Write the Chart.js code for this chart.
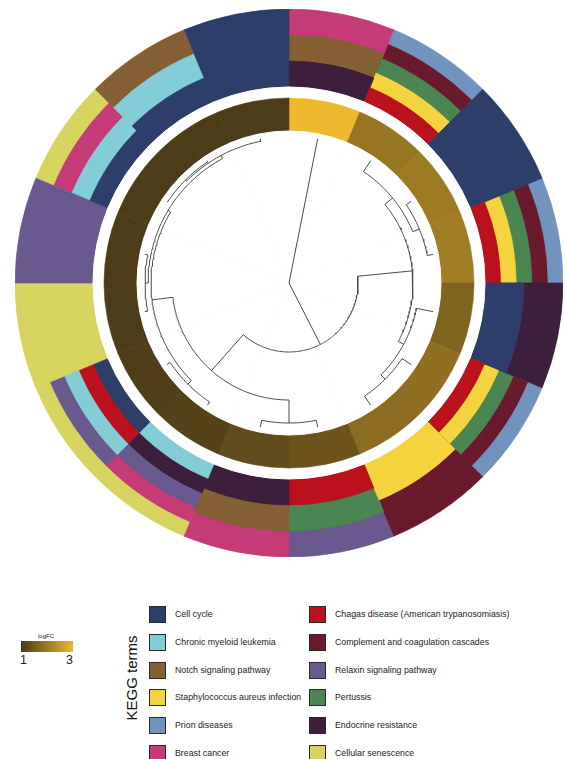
<!DOCTYPE html>
<html>
<head>
<meta charset="utf-8">
<script src="https://cdn.jsdelivr.net/npm/chart.js@4.4.1/dist/chart.umd.min.js"></script>
<style>
  body { margin: 0; background: #fff; font-family: "Liberation Sans", Arial, sans-serif; }
  #wrap { position: relative; width: 565px; height: 759px; overflow: hidden; }
  .cv { position: absolute; left: 15px; top: 9px; }
  .sw { position: absolute; width: 15px; height: 15px; border: 1px solid #2a2a2a; }
  .lt { position: absolute; font-size: 8.8px; color: #222; white-space: nowrap; line-height: 10px; }
</style>
</head>
<body>
<div id="wrap">
  <canvas id="ring" class="cv" width="548" height="548"></canvas>
  <canvas id="tree" class="cv" width="548" height="548"></canvas>
  <div id="legend"></div>
</div>
<script>
// ================= DATA =================

const genes = ["g1","g2","g3","g4","g5","g6","g7","g8","g9","g10","g11","g12","g13","g14","g15","g16"];

// logFC per gene, clockwise from 12 o'clock
const logFC = [3.0, 1.93, 2.02, 2.05, 1.64, 1.83, 1.78, 1.40, 1.28, 1.12, 1.06, 1.03, 1.03, 1.03, 1.03, 1.03];

const terms = [
    "Cell cycle",
    "Chronic myeloid leukemia",
    "Notch signaling pathway",
    "Staphylococcus aureus infection",
    "Prion diseases",
    "Breast cancer",
    "Chagas disease (American trypanosomiasis)",
    "Complement and coagulation cascades",
    "Relaxin signaling pathway",
    "Pertussis",
    "Endocrine resistance",
    "Cellular senescence"
];

const termColors = [
    "#2E3E6A", "#83CDD8", "#856034", "#F3D33E", "#7194BF", "#C43B77",
    "#BA111D", "#6A1A2D", "#6A598F", "#4B8551", "#3D1F3D", "#D6D35F"
];

// term memberships per gene, inner to outer
const geneTerms = [
    [10, 2, 5],
    [6, 3, 9, 7, 4],
    [0],
    [6, 3, 9, 7, 4],
    [0, 10],
    [6, 3, 9, 7, 4],
    [3, 7],
    [6, 9, 8],
    [10, 2, 5],
    [1, 10, 8, 5, 11],
    [0, 6, 1, 8, 11],
    [11],
    [8],
    [0, 1, 5, 11],
    [0, 1, 2],
    [0]
];

// dendrogram merges: [left, right, height radius]
const merges = {
    n0:  ["g3", "g4", 141],
    n1:  ["g2", "n0", 134],
    n2:  ["g6", "g7", 136],
    n3:  ["g5", "n2", 130],
    n4:  ["n1", "n3", 124],
    n5:  ["g8", "g9", 140],
    n6:  ["g10", "g11", 143],
    n7:  ["g12", "g13", 144],
    n8:  ["g14", "g15", 146],
    n9:  ["n8", "g16", 144.5],
    n10: ["n7", "n9", 141],
    n11: ["n6", "n10", 138],
    n12: ["n5", "n11", 117],
    n13: ["n4", "n12", 69],
    n14: ["g1", "n13", 0]
};

const fcRange = [1, 3];
const fcLow = [75, 58, 24];
const fcHigh = [238, 185, 46];

// ================= RING GEOMETRY =================

const R_MAX = 274;
const R_CENTER = 152;
const R_FC = 185;
const R_GAP = 196;
const R_LEAF = 147;
const SECTOR = 360 / genes.length;

function fcColor(v) {
    const t = Math.max(0, Math.min(1, (v - fcRange[0]) / (fcRange[1] - fcRange[0])));
    const c = fcLow.map((a, i) => Math.round(a + (fcHigh[i] - a) * t));
    return "rgb(" + c.join(",") + ")";
}

const maxTerms = Math.max(...geneTerms.map(t => t.length));

const ringSets = [];

ringSets.push({
    data: genes.map(() => R_CENTER),
    backgroundColor: "#ffffff",
    borderColor: "#ffffff",
    borderWidth: 1
});

const fcCols = logFC.map(fcColor);
ringSets.push({
    data: genes.map(() => R_FC),
    backgroundColor: fcCols,
    borderColor: fcCols,
    borderWidth: 0.6
});

ringSets.push({
    data: genes.map(() => R_GAP),
    backgroundColor: "#ffffff",
    borderColor: "#ffffff",
    borderWidth: 1
});

for (let j = 0; j < maxTerms; j++) {
    const cols = geneTerms.map(t => j < t.length ? termColors[t[j]] : "#ffffff");
    ringSets.push({
        data: geneTerms.map(t => j < t.length ? R_GAP + (R_MAX - R_GAP) * (j + 1) / t.length : 0),
        backgroundColor: cols,
        borderColor: cols,
        borderWidth: 0.6
    });
}

new Chart(document.getElementById("ring"), {
    type: "polarArea",
    data: { labels: genes, datasets: ringSets },
    options: {
        responsive: false,
        animation: false,
        layout: { padding: 0 },
        plugins: { legend: { display: false }, tooltip: { enabled: false } },
        scales: { r: { display: false, min: 0, max: R_MAX } }
    }
});

// ================= DENDROGRAM =================

function nodePos(id) {
    if (id[0] === "g") {
        const i = genes.indexOf(id);
        return { a: (i + 0.5) * SECTOR, r: R_LEAF };
    }
    const m = merges[id];
    const p1 = nodePos(m[0]);
    const p2 = nodePos(m[1]);
    return { a: (p1.a + p2.a) / 2, r: m[2] };
}

function polar(r, a) {
    const rad = a * Math.PI / 180;
    return { x: r * Math.sin(rad), y: r * Math.cos(rad) };
}

const treeSets = Object.keys(merges).map(id => {
    const m = merges[id];
    const c1 = nodePos(m[0]);
    const c2 = nodePos(m[1]);
    const pts = [polar(c1.r, c1.a)];
    const steps = Math.max(2, Math.ceil(Math.abs(c2.a - c1.a)));
    for (let s = 0; s <= steps; s++) {
        pts.push(polar(m[2], c1.a + (c2.a - c1.a) * s / steps));
    }
    pts.push(polar(c2.r, c2.a));
    return {
        data: pts,
        showLine: true,
        pointRadius: 0,
        borderColor: "#4a4a4a",
        borderWidth: 1,
        fill: false
    };
});

new Chart(document.getElementById("tree"), {
    type: "scatter",
    data: { datasets: treeSets },
    options: {
        responsive: false,
        animation: false,
        layout: { padding: 0 },
        plugins: { legend: { display: false }, tooltip: { enabled: false } },
        scales: {
            x: { display: false, min: -R_MAX, max: R_MAX },
            y: { display: false, min: -R_MAX, max: R_MAX }
        }
    }
});

// ================= LEGENDS =================

const legend = document.getElementById("legend");
let html = "";

// logFC colour bar
html += '<div class="lt" style="left:38px;top:631px;font-size:6px;">logFC</div>';
html += '<div style="position:absolute;left:21px;top:641px;width:52px;height:11px;background:linear-gradient(to right,' +
        fcColor(fcRange[0]) + ',' + fcColor(fcRange[1]) + ');"></div>';
html += '<div class="lt" style="left:20px;top:654px;font-size:12.5px;line-height:13px;">' + fcRange[0] + '</div>';
html += '<div class="lt" style="left:66px;top:654px;font-size:12.5px;line-height:13px;">' + fcRange[1] + '</div>';

// KEGG terms title
html += '<div class="lt" style="left:131px;top:678px;font-size:15px;line-height:15px;color:#111;transform:translate(-50%,-50%) rotate(-90deg);">KEGG terms</div>';

terms.forEach((t, i) => {
    const col = Math.floor(i / 6);
    const row = i % 6;
    const sx = col === 0 ? 149 : 309;
    const cy = 614.5 + row * 27.8;
    html += '<div class="sw" style="left:' + sx + 'px;top:' + (cy - 8.5) + 'px;background:' + termColors[i] + ';"></div>';
    html += '<div class="lt" style="left:' + (sx + 26) + 'px;top:' + (cy - 5.5) + 'px;">' + t + '</div>';
});

legend.innerHTML = html;
</script>
</body>
</html>
